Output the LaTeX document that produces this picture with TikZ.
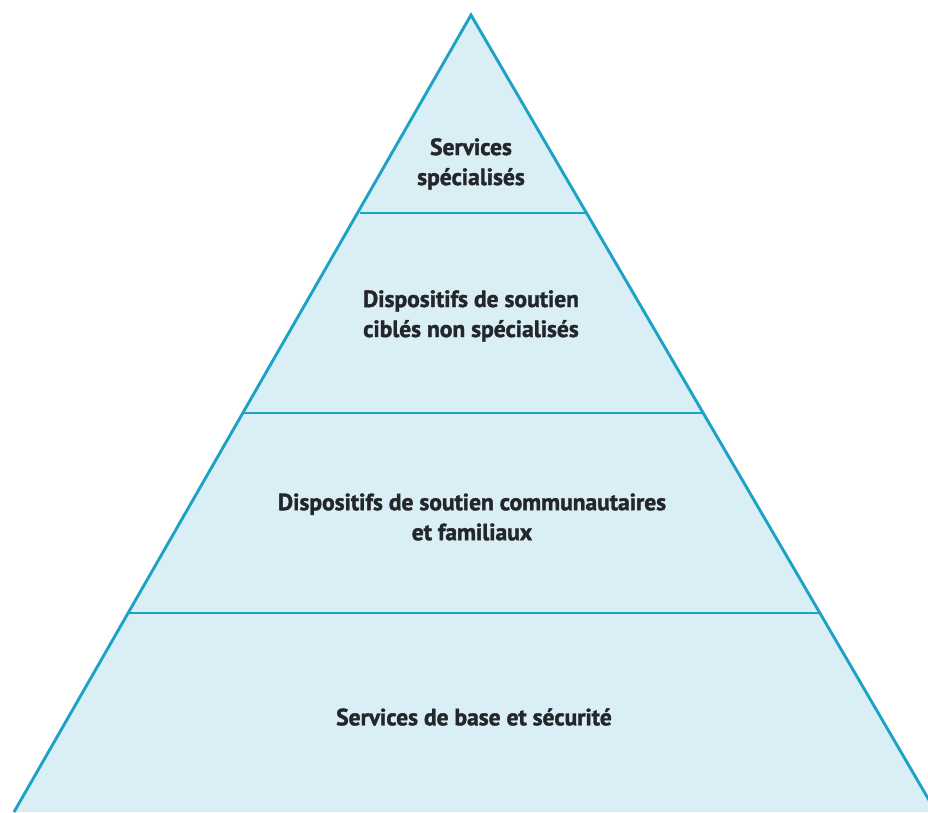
\documentclass[tikz,border=0pt]{standalone}
\usepackage{fontspec}
\setmainfont{PT Sans}[FakeBold=1.6]
\definecolor{edge}{HTML}{1DA1C5}
\definecolor{fillc}{HTML}{D9EEF5}
\definecolor{txt}{HTML}{23262B}
\begin{document}
\begin{tikzpicture}[x=1pt,y=-1pt,
  lvl/.style={text=txt,align=center,font=\fontsize{23.5}{30}\selectfont\bfseries},
  div/.style={draw=edge,line width=2.6pt}]
\useasboundingbox (0,0) rectangle (928,812);
\begin{scope}
\clip (0,0) rectangle (928,812);
\coordinate (apex) at (471,15);
\coordinate (bl) at (14,812);
\coordinate (br) at (936,812);
\fill[fillc] (apex) -- (bl) -- (br) -- cycle;
\draw[edge,line width=2.9pt,line join=miter] (bl) -- (apex) -- (br);
\draw[div] (360,213) -- (585,213);
\draw[div] (244,413) -- (703,413);
\draw[div] (128,613) -- (820,613);
\end{scope}
\node[lvl] (n1) at (471,164) {Services\\spécialisés};
\node[lvl] (n2) at (471,316) {Dispositifs de soutien\\ciblés non spécialisés};
\node[lvl] (n3) at (472,517) {Dispositifs de soutien communautaires\\et familiaux};
\node[lvl] (n4) at (474,717) {Services de base et sécurité};
\end{tikzpicture}
\end{document}
